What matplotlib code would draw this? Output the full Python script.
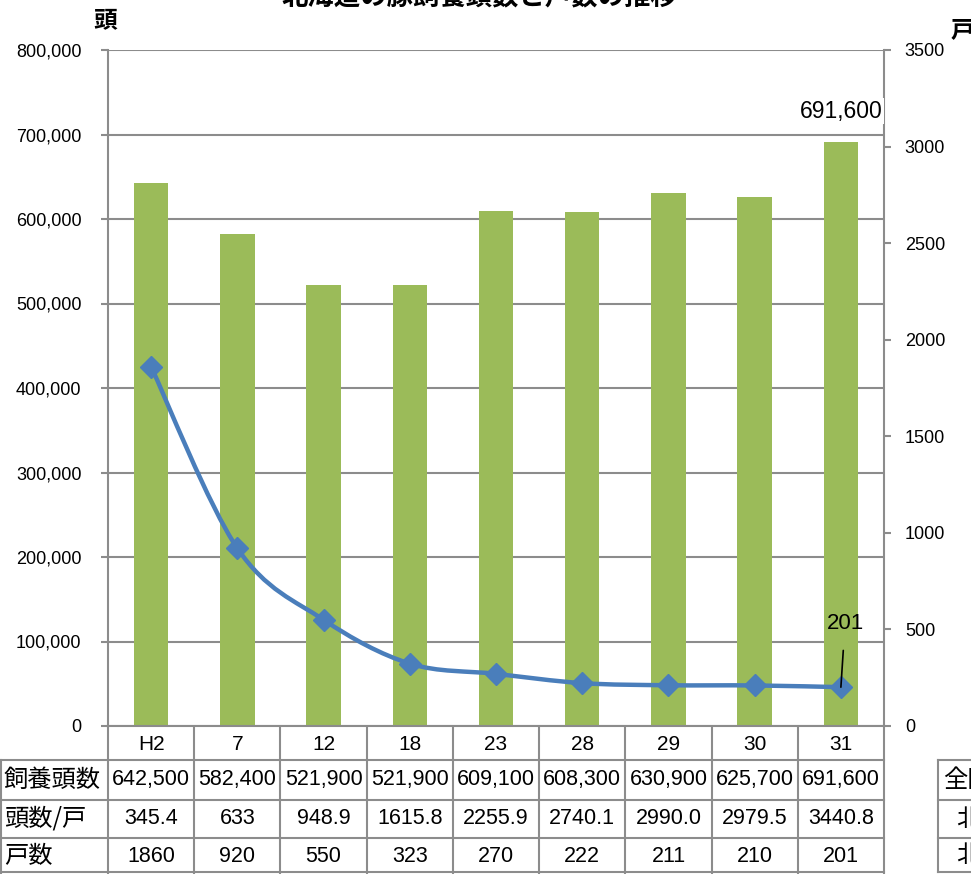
import numpy as np
import matplotlib
matplotlib.use("Agg")
import matplotlib.pyplot as plt
from matplotlib.path import Path
from matplotlib.patches import PathPatch

plt.rcParams['font.family'] = ['Liberation Sans', 'Noto Sans CJK JP', 'DejaVu Sans']

# ---- data ----
years = ["H2", "7", "12", "18", "23", "28", "29", "30", "31"]
heads = [642500, 582400, 521900, 521900, 609100, 608300, 630900, 625700, 691600]
heads_per_farm = ["345.4", "633", "948.9", "1615.8", "2255.9", "2740.1", "2990.0", "2979.5", "3440.8"]
farms = [1860, 920, 550, 323, 270, 222, 211, 210, 201]
row_labels = ["飼養頭数", "頭数/戸", "戸数"]
title = "北海道の豚飼養頭数と戸数の推移"
side_labels = ["全国", "北", "北"]

W, H = 971, 874
fig = plt.figure(figsize=(W / 100, H / 100), dpi=100)
L, R, T, B = 108, 884, 50, 726
ax = fig.add_axes([L / W, (H - B) / H, (R - L) / W, (B - T) / H])
ax2 = ax.twinx()

n = len(years)
x = np.arange(n)
green = "#9BBB59"
blue = "#4A7EBB"
gray = "#8C8C8C"
jp = ["Noto Sans CJK JP", "DejaVu Sans"]

ax.bar(x, heads, width=0.4, color=green, zorder=2)
ax.set_xlim(-0.5, n - 0.5)
ax.set_ylim(0, 800000)
ax.set_yticks(np.arange(0, 800001, 100000))
ax.set_yticklabels([f"{v:,}" for v in range(0, 800001, 100000)], fontsize=13)
ax.yaxis.grid(True, color=gray, lw=1.5, zorder=0)
ax.set_axisbelow(True)
ax.set_xticks([])
for s in ["left", "right", "bottom", "top"]:
    ax.spines[s].set_color(gray)
    ax.spines[s].set_linewidth(1.5)
ax.spines["top"].set_visible(False)
ax.tick_params(axis="y", length=5, color=gray, width=1.5, pad=14)

# smooth line (Catmull-Rom -> Bezier)
pts = np.column_stack([x, farms]).astype(float)
verts = [tuple(pts[0])]
codes = [Path.MOVETO]
for i in range(n - 1):
    p0 = pts[max(i - 1, 0)]
    p1 = pts[i]
    p2 = pts[i + 1]
    p3 = pts[min(i + 2, n - 1)]
    c1 = p1 + (p2 - p0) / 6.0
    c2 = p2 - (p3 - p1) / 6.0
    verts += [tuple(c1), tuple(c2), tuple(p2)]
    codes += [Path.CURVE4] * 3
ax2.add_patch(PathPatch(Path(verts, codes), facecolor="none", edgecolor=blue, lw=3.2, zorder=3))
ax2.plot(x, farms, ls="none", marker="D", ms=11, color=blue, zorder=4)
ax2.set_ylim(0, 3500)
ax2.set_yticks(np.arange(0, 3501, 500))
ax2.set_yticklabels([str(v) for v in range(0, 3501, 500)], fontsize=13)
ax2.tick_params(axis="y", length=5, color=gray, width=1.5, pad=10)
for s in ["left", "right", "bottom", "top"]:
    ax2.spines[s].set_visible(False)

ax.annotate(f"{heads[-1]:,}", (x[-1], heads[-1]), xytext=(0, 22), textcoords="offset points",
            ha="center", va="center", fontsize=16.5,
            bbox=dict(facecolor="white", edgecolor="none", pad=1), zorder=5)
ax2.annotate(str(farms[-1]), (x[-1], farms[-1]), xytext=(3, 46), textcoords="offset points",
             ha="center", va="center", fontsize=16,
             arrowprops=dict(arrowstyle="-", color="black", lw=1.2, shrinkA=10, shrinkB=0), zorder=5)

# title and axis units
fig.text(479 / W, 1 + 2 / H, title, ha="center", va="center", fontsize=19, fontweight="bold",
         family=jp)
fig.text(105 / W, 1 - 20 / H, "頭", ha="center", va="center", fontsize=17, fontweight="bold",
         family=jp)
fig.text(962 / W, 1 - 30 / H, "戸", ha="center", va="center", fontsize=17, fontweight="bold",
         family=jp)

# ---- data table below the plot ----
colw = (R - L) / n
tab = fig.add_axes([0, 0, 1, 1], zorder=-1)
tab.set_xlim(-0.5 - L / colw, n - 0.5 + (W - R) / colw)
tab.set_ylim(H, 0)
tab.axis("off")
xl = -0.5 - L / colw
rows_y = [726, 760, 800, 838, 874]
lk = dict(color=gray, lw=1.5)
for i in range(n + 1):
    tab.plot([i - 0.5, i - 0.5], [rows_y[0], H], **lk)
tab.plot([xl + 0.01, xl + 0.01], [rows_y[1], H], **lk)
for yy in rows_y[1:4]:
    tab.plot([xl, n - 0.5], [yy, yy], **lk)
tab.plot([xl, n - 0.5], [872, 872], **lk)

num = ["Liberation Sans", "Noto Sans CJK JP", "DejaVu Sans"]
for i, yv in enumerate(years):
    tab.text(i, (rows_y[0] + rows_y[1]) / 2 + 1, yv, ha="center", va="center", fontsize=15, family=num)
row_vals = [[f"{v:,}" for v in heads], heads_per_farm, [str(v) for v in farms]]
for r in range(3):
    yc = (rows_y[r + 1] + rows_y[r + 2]) / 2
    tab.text(xl + 4 / colw, yc, row_labels[r], ha="left", va="center", fontsize=17.5, family=jp)
    for i in range(n):
        tab.text(i, yc, row_vals[r][i], ha="center", va="center", fontsize=15.5, family=num)

# partial side table at the right edge
sx = n - 0.5 + (938 - R) / colw
for yy in [760, 800, 838, 872]:
    tab.plot([sx, sx + 2], [yy, yy], **lk)
tab.plot([sx, sx], [760, 872], **lk)
tab.text(sx + 5 / colw, 780, side_labels[0], ha="left", va="center", fontsize=17.5, family=jp)
tab.text(sx + 18 / colw, 819, side_labels[1], ha="left", va="center", fontsize=17.5, family=jp)
tab.text(sx + 18 / colw, 855, side_labels[2], ha="left", va="center", fontsize=17.5, family=jp)

fig.savefig("out.png", dpi=100)
